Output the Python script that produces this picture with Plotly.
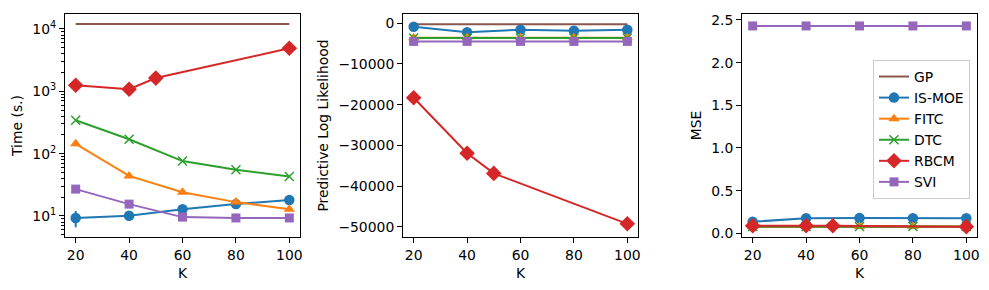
import plotly.graph_objects as go

# ---------------- data ----------------
K_all = [20, 40, 60, 80, 100]
K_gp = [20, 100]
K_rbcm = [20, 40, 50, 100]

time_gp = [12000, 12000]
time_ismoe = [9.3, 10.1, 12.8, 15.5, 18.0]
time_ismoe_err = [2.7, 0.3, 0.3, 0.3, 0.3]
time_fitc = [144, 44, 24, 16.7, 12.8]
time_dtc = [343, 170, 76, 55, 43]
time_rbcm = [1250, 1080, 1630, 4900]
time_svi = [27, 15.5, 9.6, 9.3, 9.3]

pll_gp = [-200, -200]
pll_ismoe = [-830, -2200, -1560, -1800, -1600]
pll_fitc = [-3550, -3550, -3550, -3550, -3550]
pll_dtc = [-3600, -3600, -3600, -3600, -3600]
pll_rbcm = [-18300, -31960, -36900, -49300]
pll_svi = [-4450, -4450, -4450, -4450, -4450]

mse_gp = [0.075, 0.075]
mse_ismoe = [0.136, 0.176, 0.18, 0.177, 0.177]
mse_fitc = [0.08, 0.08, 0.08, 0.08, 0.08]
mse_dtc = [0.08, 0.08, 0.08, 0.08, 0.08]
mse_rbcm = [0.089, 0.089, 0.089, 0.078]
mse_svi = [2.43, 2.43, 2.43, 2.43, 2.43]

x_ticks = [20, 40, 60, 80, 100]
time_ticks = [10, 100, 1000, 10000]
time_ticktext = ["10<sup>1</sup>", "10<sup>2</sup>", "10<sup>3</sup>", "10<sup>4</sup>"]
pll_ticks = [0, -10000, -20000, -30000, -40000, -50000]
pll_ticktext = ["0", "\u221210000", "\u221220000", "\u221230000", "\u221240000", "\u221250000"]
mse_ticks = [0.0, 0.5, 1.0, 1.5, 2.0, 2.5]

# ---------------- styles ----------------
C = dict(gp="#8c564b", ismoe="#1f77b4", fitc="#ff7f0e", dtc="#2ca02c",
         rbcm="#d62728", svi="#9467bd")
FONT = "DejaVu Sans"
FS = 13.9

fig = go.Figure()

panels = [
    (1, K_gp, time_gp, time_ismoe, time_fitc, time_dtc, time_rbcm, time_svi, time_ismoe_err),
    (2, K_gp, pll_gp, pll_ismoe, pll_fitc, pll_dtc, pll_rbcm, pll_svi, None),
    (3, K_gp, mse_gp, mse_ismoe, mse_fitc, mse_dtc, mse_rbcm, mse_svi, None),
]

for idx, kg, gp, ism, fitc, dtc, rbcm, svi, err in panels:
    xa = "x" if idx == 1 else f"x{idx}"
    ya = "y" if idx == 1 else f"y{idx}"
    show = idx == 3
    lw = 2
    fig.add_trace(go.Scatter(x=kg, y=gp, mode="lines", name="GP",
                             line=dict(color=C["gp"], width=lw),
                             xaxis=xa, yaxis=ya, showlegend=show))
    ed = None
    if err is not None:
        ed = dict(type="data", array=err, color=C["ismoe"], thickness=2, width=0)
    fig.add_trace(go.Scatter(x=K_all, y=ism, mode="lines+markers", name="IS-MOE",
                             line=dict(color=C["ismoe"], width=lw),
                             marker=dict(symbol="circle", size=10.5, color=C["ismoe"]),
                             error_y=ed, xaxis=xa, yaxis=ya, showlegend=show))
    fig.add_trace(go.Scatter(x=K_all, y=fitc, mode="lines+markers", name="FITC",
                             line=dict(color=C["fitc"], width=lw),
                             marker=dict(symbol="triangle-up", size=10, color=C["fitc"]),
                             xaxis=xa, yaxis=ya, showlegend=show))
    fig.add_trace(go.Scatter(x=K_all, y=dtc, mode="lines+markers", name="DTC",
                             line=dict(color=C["dtc"], width=lw),
                             marker=dict(symbol="x-thin-open", size=9, color=C["dtc"],
                                         line=dict(color=C["dtc"], width=1.5)),
                             xaxis=xa, yaxis=ya, showlegend=show))
    fig.add_trace(go.Scatter(x=K_rbcm, y=rbcm, mode="lines+markers", name="RBCM",
                             line=dict(color=C["rbcm"], width=lw),
                             marker=dict(symbol="diamond", size=12, color=C["rbcm"]),
                             xaxis=xa, yaxis=ya, showlegend=show))
    fig.add_trace(go.Scatter(x=K_all, y=svi, mode="lines+markers", name="SVI",
                             line=dict(color=C["svi"], width=lw),
                             marker=dict(symbol="square", size=9, color=C["svi"]),
                             xaxis=xa, yaxis=ya, showlegend=show))

W, H = 989, 290
L, R, T, B = 65, 12, 14, 53
pw = W - L - R
def dom(a, b):
    return [(a - L) / pw, (b - L) / pw]

axis_common = dict(showline=True, mirror=True, linecolor="black", linewidth=1,
                   ticks="outside", ticklen=5, tickwidth=1, tickcolor="black",
                   showgrid=False, zeroline=False,
                   tickfont=dict(family=FONT, size=FS, color="black"))

xcommon = dict(axis_common, range=[16, 104], tickmode="array", tickvals=x_ticks,
               title=dict(text="K", font=dict(family=FONT, size=FS, color="black"), standoff=6))

fig.update_layout(
    width=W, height=H,
    margin=dict(l=L, r=R, t=T, b=B, autoexpand=False),
    paper_bgcolor="white", plot_bgcolor="white",
    font=dict(family=FONT, size=FS, color="black"),
    xaxis=dict(xcommon, domain=dom(65, 300), anchor="y"),
    xaxis2=dict(xcommon, domain=dom(403, 638), anchor="y2"),
    xaxis3=dict(xcommon, domain=dom(742, 977), anchor="y3"),
    yaxis=dict(axis_common, type="log", range=[0.663, 4.24], tickmode="array",
               tickvals=time_ticks, ticktext=time_ticktext, anchor="x",
               minor=dict(ticks="outside", ticklen=3, tickcolor="black",
                          tickvals=[m * 10 ** e for e in range(0, 5) for m in range(2, 10)]),
               title=dict(text="Time (s.)", font=dict(family=FONT, size=FS), standoff=6)),
    yaxis2=dict(axis_common, range=[-52540, 2290], tickmode="array",
                tickvals=pll_ticks, ticktext=pll_ticktext, anchor="x2",
                title=dict(text="Predictive Log Likelihood", font=dict(family=FONT, size=FS), standoff=6)),
    yaxis3=dict(axis_common, range=[-0.043, 2.57], tickmode="array",
                tickvals=mse_ticks, tickformat=".1f", anchor="x3",
                title=dict(text="MSE", font=dict(family=FONT, size=FS), standoff=6)),
    legend=dict(x=(873 - L) / pw, y=(H - B - 60) / (H - T - B), xanchor="left", yanchor="top",
                bgcolor="rgba(255,255,255,0.8)", bordercolor="#cccccc", borderwidth=1,
                font=dict(family=FONT, size=FS, color="black"),
                tracegroupgap=0, itemwidth=30),
)

fig.write_html("out.html", config={"displayModeBar": False},
               post_script="document.body.style.margin='0';document.body.style.overflow='hidden';")
